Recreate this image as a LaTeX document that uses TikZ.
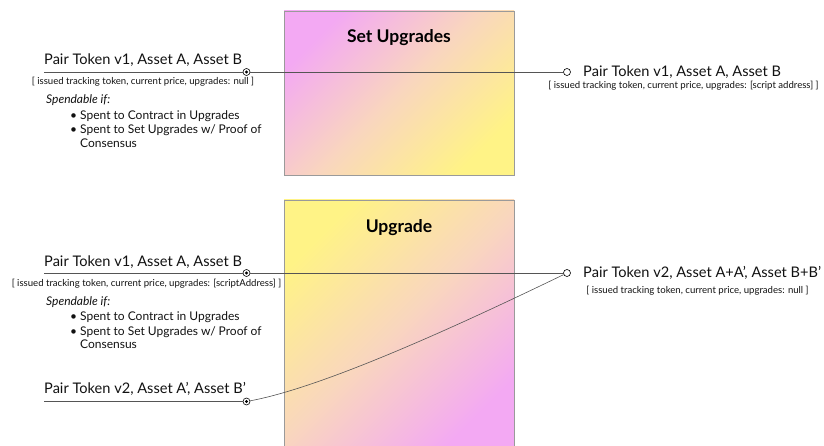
\documentclass[tikz,border=0pt]{standalone}
\usepackage{fontspec}
\setmainfont{Lato}
\definecolor{pinkc}{HTML}{F3A9F3}
\definecolor{peachc}{HTML}{F9D6BE}
\definecolor{yellowc}{HTML}{FFF386}
\definecolor{edgec}{HTML}{9A9A9A}
\definecolor{linec}{HTML}{555555}
\definecolor{inkc}{HTML}{111111}
\begin{document}
\begin{tikzpicture}[x=1pt,y=-1pt,
  titlefont/.style={font=\fontsize{14.6}{17}\selectfont, text=inkc},
  smallfont/.style={font=\fontsize{9.6}{11}\selectfont, text=inkc},
  bodyfont/.style={font=\fontsize{12}{14}\selectfont, text=inkc},
  boxtitle/.style={font=\fontsize{17.5}{19}\selectfont\bfseries, text=black, anchor=base, inner sep=0pt},
  lbl/.style={inner sep=0pt, anchor=base west},
  ctr/.style={inner sep=0pt, anchor=base},
  conn/.style={draw=linec, line width=0.6pt},
  inpin/.style={circle, draw=black, fill=white, line width=0.6pt, inner sep=0pt, minimum size=7pt,
    path picture={\fill[black] (path picture bounding box.center) circle (1.6pt);}},
  outpin/.style={circle, draw=black, fill=white, line width=0.6pt, inner sep=0pt, minimum size=7pt},
  panel/.style={draw=edgec, line width=0.6pt}
]
\useasboundingbox (0,0) rectangle (824,446);

% ---- panels ----
\shade[top color=pinkc, bottom color=yellowc, middle color=peachc, shading angle=45]
  (284,11) rectangle (514,175);
\draw[panel] (284,11) rectangle (514,175);
\node[boxtitle] (t1) at (399,43) {Set Upgrades};

\shade[top color=yellowc, bottom color=pinkc, middle color=peachc, shading angle=45]
  (284,200) rectangle (514,450);
\draw[panel] (284,200) rectangle (514,450);
\node[boxtitle] (t2) at (399,233) {Upgrade};

% ---- Set Upgrades: input and output ----
\coordinate (s1) at (44,72);
\node[inpin] (d1) at (246.5,72) {};
\node[outpin] (o1) at (567,72) {};
\draw[conn] (s1) -- (d1);
\draw[conn] (d1) -- (o1);

\node[lbl, titlefont] (a1) at (44,65) {Pair Token v1, Asset A, Asset B};
\node[ctr, smallfont] (a1b) at (143,85) {[ issued tracking token, current price, upgrades: null ]};
\node[lbl, bodyfont] (a1s) at (46,104) {\itshape Spendable if:};
\node[lbl, bodyfont] (a1p) at (70,119.5) {•};
\node[lbl, bodyfont] (a1q) at (80,119.5) {Spent to Contract in Upgrades};
\node[lbl, bodyfont] (a1r) at (70,134) {•};
\node[lbl, bodyfont] (a1u) at (80,134) {Spent to Set Upgrades w/ Proof of};
\node[lbl, bodyfont] (a1v) at (80,147.5) {Consensus};

\node[lbl, titlefont] (b1) at (583,77) {Pair Token v1, Asset A, Asset B};
\node[ctr, smallfont] (b1b) at (683.5,89) {[ issued tracking token, current price, upgrades: [script address] ]};

% ---- Upgrade: inputs and output ----
\coordinate (s2) at (44,273);
\node[inpin] (d2) at (246.5,273) {};
\node[outpin] (o2) at (567,273) {};
\draw[conn] (s2) -- (d2);
\draw[conn] (d2) -- (o2);

\coordinate (s3) at (44,401.5);
\node[inpin] (d3) at (246.5,401.5) {};
\draw[conn] (s3) -- (d3);
\draw[conn] (d3) .. controls (330,386) and (480,315) .. (o2);

\node[lbl, titlefont] (a2) at (44,266) {Pair Token v1, Asset A, Asset B};
\node[ctr, smallfont] (a2b) at (146.5,287) {[ issued tracking token, current price, upgrades: [scriptAddress] ]};
\node[lbl, bodyfont] (a2s) at (46,305) {\itshape Spendable if:};
\node[lbl, bodyfont] (a2p) at (70,320.5) {•};
\node[lbl, bodyfont] (a2q) at (80,320.5) {Spent to Contract in Upgrades};
\node[lbl, bodyfont] (a2r) at (70,335) {•};
\node[lbl, bodyfont] (a2u) at (80,335) {Spent to Set Upgrades w/ Proof of};
\node[lbl, bodyfont] (a2v) at (80,348.5) {Consensus};

\node[lbl, titlefont] (a3) at (44,393) {Pair Token v2, Asset A’, Asset B’};

\node[lbl, titlefont] (b2) at (583,277) {Pair Token v2, Asset A+A’, Asset B+B’};
\node[ctr, smallfont] (b2b) at (697.5,294) {[ issued tracking token, current price, upgrades: null ]};
\end{tikzpicture}
\end{document}
